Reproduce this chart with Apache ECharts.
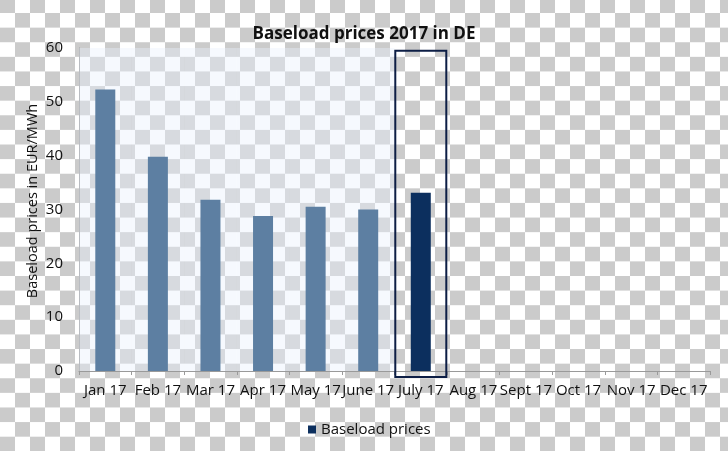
<!DOCTYPE html>
<html><head><meta charset="utf-8">
<script src="https://cdn.jsdelivr.net/npm/echarts@6/dist/echarts.min.js"></script>
<style>
html,body{margin:0;padding:0;width:728px;height:451px;overflow:hidden;}
body{background: repeating-conic-gradient(#ffffff 0 25%, #cbcbcb 0 50%) 0 -1.6px / 30px 29.23px;}
#c{width:728px;height:451px;}
</style></head><body><div id="c"></div>
<script>
const categories = ['Jan 17','Feb 17','Mar 17','Apr 17','May 17','June 17','July 17','Aug 17','Sept 17','Oct 17','Nov 17','Dec 17'];
const prices = [52.3, 39.8, 31.8, 28.8, 30.5, 30.0, 33.1, null, null, null, null, null];
const shadedMonths = ['Jan 17','Feb 17','Mar 17','Apr 17','May 17','June 17'];
const highlightMonth = 'July 17';
const yMin = 0, yMax = 60, yStep = 10;

const FONT = '"Open Sans", "Noto Sans", sans-serif';
const pastColor = '#5d7fa2';
const currentColor = '#0c2f5e';

const chart = echarts.init(document.getElementById('c'), null, {renderer:'canvas'});

const barData = prices.map((v, i) => ({
  value: v,
  itemStyle: { color: categories[i] === highlightMonth ? currentColor : pastColor }
}));
const shadeData = categories.map(c => shadedMonths.includes(c) ? yMax : null);

chart.setOption({
  backgroundColor: 'transparent',
  animation: false,
  title: {
    text: 'Baseload prices 2017 in DE',
    left: 'center', top: 21,
    textStyle: { fontFamily: FONT, fontSize: 17, fontWeight: 'bold', color: '#111' }
  },
  legend: {
    data: ['Baseload prices'],
    left: 303, top: 417,
    icon: 'rect', itemWidth: 8, itemHeight: 8,
    textStyle: { fontFamily: FONT, fontSize: 15, color: '#111' }
  },
  grid: { left: 79, right: 18, top: 48, bottom: 80 },
  xAxis: [{
    type: 'category', data: categories,
    axisLine: { lineStyle: { color: '#9a9a9a', width: 1 } },
    axisTick: { show: true, length: 4, lineStyle: { color: '#9a9a9a' } },
    axisLabel: { fontFamily: FONT, fontSize: 15, color: '#111', margin: 12, interval: 0 }
  }, {
    type: 'category', data: categories, show: false, position: 'bottom'
  }],
  yAxis: {
    type: 'value', min: yMin, max: yMax, interval: yStep,
    axisLine: { show: true, lineStyle: { color: '#9a9a9a' } },
    axisTick: { show: false },
    splitLine: { show: false },
    axisLabel: { fontFamily: FONT, fontSize: 15, color: '#111', margin: 16 }
  },
  series: [{
    name: 'shade', type: 'bar', xAxisIndex: 1, data: shadeData,
    barWidth: '100%', silent: true, z: 1,
    itemStyle: { color: 'rgba(232,240,252,0.4)' }
  }, {
    name: 'Baseload prices', type: 'bar', xAxisIndex: 0, data: barData,
    barWidth: 20, z: 3,
    itemStyle: { color: currentColor }
  }]
});

// highlight frame around the current month, positioned from the axes
const cx = chart.convertToPixel({xAxisIndex: 0}, highlightMonth);
const band = chart.convertToPixel({xAxisIndex: 0}, categories[7]) - cx;
const yTop = chart.convertToPixel({yAxisIndex: 0}, 59.5);
const yBot = chart.convertToPixel({yAxisIndex: 0}, 0) + 6;
chart.setOption({
  graphic: [{
    type: 'rect', z: 10,
    shape: { x: cx - band * 0.485, y: yTop, width: band * 0.97, height: yBot - yTop },
    style: { fill: 'none', stroke: '#0d1e45', lineWidth: 2 }
  }, {
    type: 'text', z: 10, x: 33, y: 201, rotation: Math.PI / 2,
    style: { text: 'Baseload prices in EUR/MWh', fontFamily: FONT, fontSize: 14.5, fill: '#111',
             textAlign: 'center', textVerticalAlign: 'middle' }
  }]
});
</script>
</body></html>
